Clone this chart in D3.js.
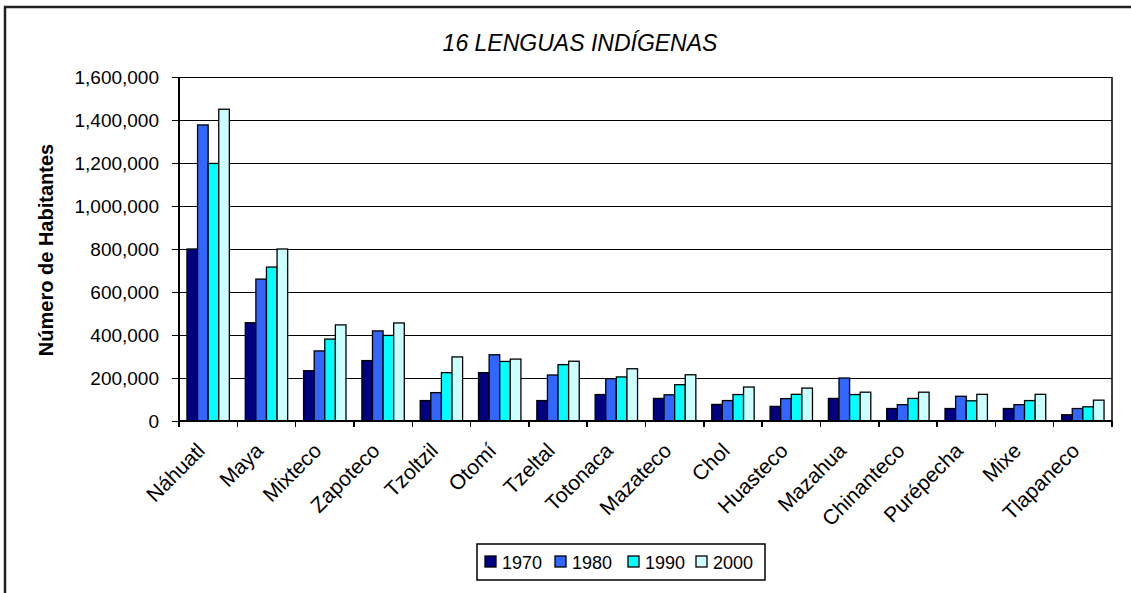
<!DOCTYPE html>
<meta charset="utf-8">
<head>
    <title>16 LENGUAS INDÍGENAS</title>
</head>
<style>
    body { margin: 0; background: #fff; }
    svg text { font-family: "Liberation Sans", Arial, sans-serif; fill: #000; }
    .grid line { stroke: #000; stroke-width: 1.5px; shape-rendering: crispEdges; }
    .grid path { stroke-width: 0; }
    .axis path, .axis line { stroke: #000; stroke-width: 1.5px; shape-rendering: crispEdges; }
    .bar { stroke: #000; stroke-width: 1.3px; }
</style>

<script src="https://d3js.org/d3.v7.min.js"></script>

<div id="chart"></div>

<script>
    // data
    var lenguas = ["Náhuatl", "Maya", "Mixteco", "Zapoteco", "Tzoltzil", "Otomí", "Tzeltal", "Totonaca",
                   "Mazateco", "Chol", "Huasteco", "Mazahua", "Chinanteco", "Purépecha", "Mixe", "Tlapaneco"];
    var years = ["1970", "1980", "1990", "2000"];
    var v1970 = [800000, 457000, 234000, 281000, 95000, 225000, 95000, 123000, 105000, 77000, 68000, 105000, 58000, 58000, 58000, 29000];
    var v1980 = [1377000, 660000, 326000, 419000, 132000, 308000, 214000, 197000, 122000, 95000, 104000, 200000, 76000, 115000, 76000, 58000];
    var v1990 = [1198000, 716000, 381000, 398000, 225000, 277000, 262000, 205000, 169000, 123000, 124000, 123000, 105000, 94000, 95000, 66000];
    var v2000 = [1450000, 800000, 447000, 456000, 298000, 288000, 278000, 243000, 215000, 158000, 153000, 134000, 134000, 124000, 124000, 97000];
    var yTicks = [0, 200000, 400000, 600000, 800000, 1000000, 1200000, 1400000, 1600000];
    var colors = ["#000080", "#3366ff", "#00ffff", "#ccffff"];

    var series = [v1970, v1980, v1990, v2000];
    var data = lenguas.map(function (d, i) {
        return { lengua: d, values: years.map(function (y, j) { return { year: y, value: series[j][i] }; }) };
    });

    var W = 1131, H = 593;
    var margin = { top: 77, right: 19, bottom: 172, left: 179 },
        width = W - margin.left - margin.right,
        height = H - margin.top - margin.bottom;

    var root = d3.select("#chart").append("svg")
        .attr("width", W)
        .attr("height", H);

    // chart frame (runs past the right and bottom of the window)
    root.append("rect")
        .attr("x", 5).attr("y", 7)
        .attr("width", 1200).attr("height", 700)
        .attr("fill", "#fff")
        .attr("stroke", "#222")
        .attr("stroke-width", 2.5);

    root.append("text")
        .attr("x", 580)
        .attr("y", 51)
        .attr("text-anchor", "middle")
        .style("font-size", "23px")
        .style("font-style", "italic")
        .text("16 LENGUAS INDÍGENAS");

    var svg = root.append("g")
        .attr("transform", "translate(" + margin.left + "," + margin.top + ")");

    var x0 = d3.scaleBand().domain(lenguas).range([0, width])
        .paddingInner(0.273).paddingOuter(0.1365);
    var x1 = d3.scaleBand().domain(years).range([0, x0.bandwidth()]);
    var y = d3.scaleLinear().domain([0, 1600000]).range([height, 0]);

    // horizontal gridlines
    svg.append("g")
        .attr("class", "grid")
        .call(d3.axisLeft(y).tickValues(yTicks).tickSize(-width).tickFormat(""));

    // bars
    svg.append("g")
        .selectAll("g")
        .data(data)
        .enter().append("g")
        .attr("transform", function (d) { return "translate(" + x0(d.lengua) + ",0)"; })
        .selectAll("rect")
        .data(function (d) { return d.values; })
        .enter().append("rect")
        .attr("class", "bar")
        .attr("x", function (d) { return x1(d.year); })
        .attr("y", function (d) { return y(d.value); })
        .attr("width", x1.bandwidth())
        .attr("height", function (d) { return height - y(d.value); })
        .attr("fill", function (d, i) { return colors[i]; });

    // right border of the plot
    svg.append("line")
        .attr("x1", width).attr("x2", width)
        .attr("y1", 0).attr("y2", height)
        .attr("stroke", "#000").attr("stroke-width", 1.5);

    // y axis
    var yAxis = svg.append("g")
        .attr("class", "axis")
        .call(d3.axisLeft(y).tickValues(yTicks).tickSize(7).tickPadding(13)
            .tickFormat(d3.format(",")));
    yAxis.select(".domain").attr("d", "M0,0V" + height);
    yAxis.selectAll("text").style("font-size", "19px");

    // x axis, ticks between categories
    var xAxis = svg.append("g")
        .attr("class", "axis")
        .attr("transform", "translate(0," + height + ")");
    xAxis.append("line").attr("x1", 0).attr("x2", width).attr("y1", 0).attr("y2", 0);
    xAxis.selectAll(".tk")
        .data(d3.range(lenguas.length + 1))
        .enter().append("line")
        .attr("class", "tk")
        .attr("x1", function (i) { return i * x0.step(); })
        .attr("x2", function (i) { return i * x0.step(); })
        .attr("y1", 0).attr("y2", 6);
    xAxis.selectAll(".lbl")
        .data(lenguas)
        .enter().append("text")
        .attr("class", "lbl")
        .attr("text-anchor", "end")
        .style("font-size", "21px")
        .attr("transform", function (d) {
            return "translate(" + (x0(d) + x0.bandwidth() / 2 - 2) + ",31) rotate(-45)";
        })
        .text(function (d) { return d; });

    // y axis title
    root.append("text")
        .attr("transform", "translate(53,250) rotate(-90)")
        .attr("text-anchor", "middle")
        .style("font-size", "20px")
        .style("font-weight", "bold")
        .text("Número de Habitantes");

    // legend
    var legend = root.append("g").attr("transform", "translate(477,544)");
    legend.append("rect")
        .attr("width", 288).attr("height", 36)
        .attr("fill", "#fff").attr("stroke", "#000").attr("stroke-width", 1.5);
    var itemX = [8, 78, 151, 219];
    var item = legend.selectAll(".item")
        .data(years)
        .enter().append("g")
        .attr("transform", function (d, i) { return "translate(" + itemX[i] + ",0)"; });
    item.append("rect")
        .attr("y", 12).attr("width", 11).attr("height", 11)
        .attr("fill", function (d, i) { return colors[i]; })
        .attr("stroke", "#000").attr("stroke-width", 1.3);
    item.append("text")
        .attr("x", 17).attr("y", 25)
        .style("font-size", "18px")
        .text(function (d) { return d; });
</script>
